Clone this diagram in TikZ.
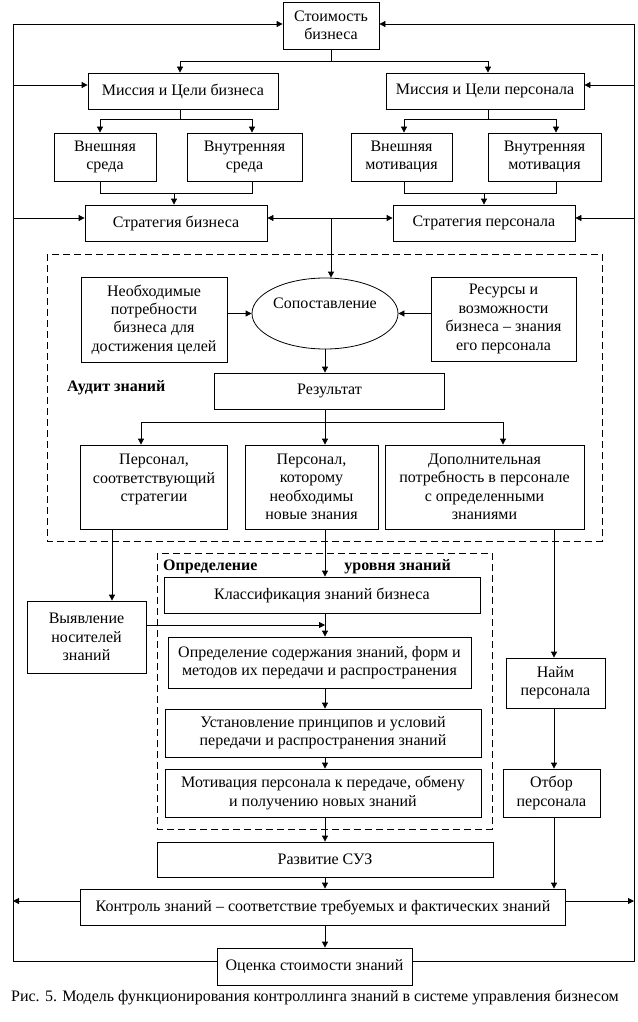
\documentclass[tikz,border=0pt]{standalone}
\usepackage{fontspec}
\setmainfont{Liberation Serif}
\usetikzlibrary{arrows.meta,shapes.geometric,calc}
\newcommand{\dfont}{\fontsize{16}{18.4}\selectfont}
\newcommand{\bx}[6]{\node[box,minimum width=#4pt,minimum height=#5pt] (#1) at (#2,#3) {#6};}
\begin{document}
\begin{tikzpicture}[x=1pt,y=-1pt,
  box/.style={draw, rectangle, inner sep=0pt, align=center, font=\dfont, line width=0.8pt},
  arr/.style={line width=0.8pt, -{Triangle[length=6pt,width=6pt]}},
  ln/.style={line width=0.8pt},
  dsh/.style={line width=0.8pt, dash pattern=on 7pt off 4pt},
  lbl/.style={font=\dfont\bfseries, inner sep=0pt}]
\fill[white] (0,0) rectangle (637,1022);
\useasboundingbox (0,0) rectangle (637,1022);

% dashed frames
\draw[dsh] (47,254) rectangle (602,541);
\draw[dsh] (157,553) rectangle (492,829);

% boxes
\bx{stoim}{331}{25.5}{96}{47}{Стоимость\\бизнеса}
\bx{misB}{183}{91}{190}{36}{Миссия и Цели бизнеса}
\bx{misP}{485}{91}{198}{36}{Миссия и Цели персонала}
\bx{vnS}{105}{157}{102}{48}{Внешняя\\среда}
\bx{vtS}{244.5}{157}{115}{48}{Внутренняя\\среда}
\bx{vnM}{401.5}{157}{101}{48}{Внешняя\\мотивация}
\bx{vtM}{544.5}{157}{113}{48}{Внутренняя\\мотивация}
\bx{strB}{176}{223}{182}{36}{Стратегия бизнеса}
\bx{strP}{484}{223}{182}{36}{Стратегия персонала}
\bx{need}{154}{319.5}{146}{85}{Необходимые\\потребности\\бизнеса для\\достижения целей}
\node[draw, ellipse, line width=0.8pt, minimum width=146pt, minimum height=71pt, inner sep=0pt] (sopo) at (325,313.5) {};
\node[font=\dfont, inner sep=0pt] (sopoT) at (325,303) {Сопоставление};
\bx{resurs}{503.5}{319}{145}{84}{Ресурсы и\\возможности\\бизнеса – знания\\его персонала}
\bx{rezult}{329.5}{391}{230}{36}{Результат}
\bx{pers1}{154}{487}{147}{84}{Персонал,\\соответствующий\\стратегии\\\mbox{}}
\bx{pers2}{311.5}{487}{133}{84}{Персонал,\\которому\\необходимы\\новые знания}
\bx{dop}{484.5}{487}{199}{84}{Дополнительная\\потребность в персонале\\с определенными\\знаниями}
\bx{vyav}{86.5}{637}{119}{72}{Выявление\\носителей\\знаний}
\bx{klass}{322}{595}{316}{36}{Классификация знаний бизнеса}
\bx{opred}{319.5}{662.5}{303}{51}{Определение содержания знаний, форм и\\методов их передачи и распространения}
\bx{ustan}{323}{733}{316}{48}{Установление принципов и условий\\передачи и распространения знаний}
\bx{motiv}{323}{793}{316}{48}{Мотивация персонала к передаче, обмену\\и получению новых знаний}
\bx{naim}{555.5}{683}{99}{50}{Найм\\персонала}
\bx{otbor}{551.5}{793}{97}{48}{Отбор\\персонала}
\bx{razv}{325}{859.5}{336}{35}{Развитие СУЗ}
\bx{kontr}{323}{907}{485}{36}{Контроль знаний – соответствие требуемых и фактических знаний}
\bx{ocenka}{314.5}{966.5}{195}{37}{Оценка стоимости знаний}

% labels
\node[lbl, anchor=west] (audit) at (67,388) {Аудит знаний};
\node[lbl, anchor=west] (opr1) at (163,567) {Определение};
\node[lbl, anchor=east] (opr2) at (451,567) {уровня знаний};
\node[font=\dfont, inner sep=0pt] (cap) at (315,997) {Рис. 5. Модель функционирования контроллинга знаний в системе управления бизнесом};

% outer feedback lines
\coordinate (L1) at (13,24);
\coordinate (L2) at (13,961);
\coordinate (R1) at (634,24);
\coordinate (R2) at (634,961);
\draw[ln] (ocenka.west |- L2) -- (L2) -- (L1);
\draw[ln] (ocenka.east |- R2) -- (R2) -- (R1);
\draw[arr] (L1) -- (stoim.west |- L1);
\draw[arr] (R1) -- (stoim.east |- R1);
\coordinate (Lm) at (13,85);
\coordinate (Rm) at (634,85);
\draw[arr] (Lm) -- (misB.west |- Lm);
\draw[arr] (Rm) -- (misP.east |- Rm);
\coordinate (Ls) at (13,218);
\coordinate (Rs) at (634,218);
\draw[arr] (Ls) -- (strB.west |- Ls);
\draw[arr] (Rs) -- (strP.east |- Rs);
\coordinate (Lk) at (13,901);
\coordinate (Rk) at (634,901);
\draw[arr] (kontr.west |- Lk) -- (Lk);
\draw[arr] (kontr.east |- Rk) -- (Rk);

% top tree
\coordinate (j0) at (331,61);
\draw[ln] (stoim.south) -- (j0);
\draw[arr] (j0) -| (180,0 |- misB.north);
\draw[arr] (j0) -| (488,0 |- misP.north);

\coordinate (jb) at (180,119);
\draw[ln] (jb |- misB.south) -- (jb);
\draw[arr] (jb) -| (100,0 |- vnS.north);
\draw[arr] (jb) -| (252,0 |- vtS.north);
\coordinate (jp) at (488,119);
\draw[ln] (jp |- misP.south) -- (jp);
\draw[arr] (jp) -| (404,0 |- vnM.north);
\draw[arr] (jp) -| (556,0 |- vtM.north);

\draw[ln] (100,0 |- vnS.south) |- (252,193) -- (252,0 |- vtS.south);
\draw[arr] (174,193) -- (174,0 |- strB.north);
\draw[ln] (404,0 |- vnM.south) |- (556,193) -- (556,0 |- vtM.south);
\draw[arr] (484,193) -- (484,0 |- strP.north);

% strategies to comparison
\coordinate (js) at (331,218);
\draw[arr] (js) -- (strB.east |- js);
\draw[arr] (js) -- (strP.west |- js);
\draw[arr] (js) -- (js |- sopo.north);
\draw[arr] (need.east |- sopo.west) -- (sopo.west);
\draw[arr] (resurs.west |- sopo.east) -- (sopo.east);
\draw[arr] (sopo.south) -- (sopo.south |- rezult.north);

% result tree
\coordinate (jr) at (325,422);
\draw[ln] (jr |- rezult.south) -- (jr);
\draw[arr] (jr) -| (141,0 |- pers1.north);
\draw[arr] (jr) -- (jr |- pers2.north);
\draw[arr] (jr) -| (503,0 |- dop.north);

% down the middle
\draw[arr] (112,0 |- pers1.south) -- (112,0 |- vyav.north);
\draw[arr] (jr |- pers2.south) -- (jr |- klass.north);
\draw[arr] (554,0 |- dop.south) -- (554,0 |- naim.north);
\draw[arr] (jr |- klass.south) -- (jr |- opred.north);
\draw[arr] (vyav.east |- 0,625) -- (jr |- 0,625);
\draw[arr] (jr |- opred.south) -- (jr |- ustan.north);
\draw[arr] (jr |- ustan.south) -- (jr |- motiv.north);
\draw[arr] (jr |- motiv.south) -- (jr |- razv.north);
\draw[arr] (jr |- razv.south) -- (jr |- kontr.north);
\draw[arr] (jr |- kontr.south) -- (jr |- ocenka.north);
\draw[arr] (554,0 |- naim.south) -- (554,0 |- otbor.north);
\draw[arr] (554,0 |- otbor.south) -- (554,0 |- kontr.north);
\end{tikzpicture}
\end{document}
